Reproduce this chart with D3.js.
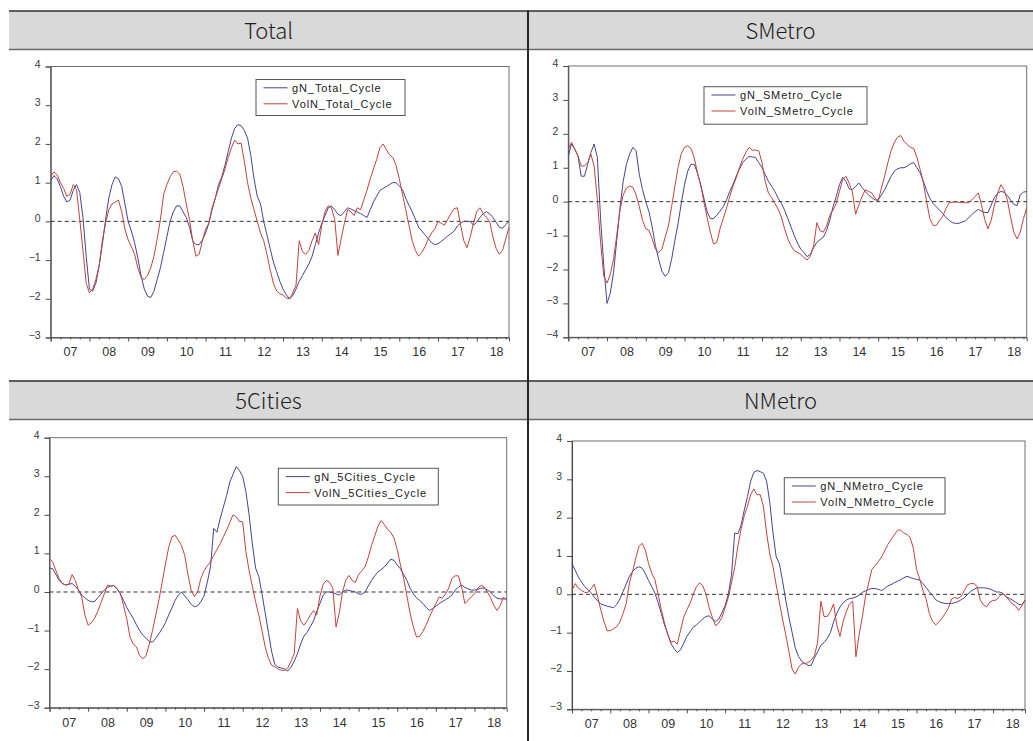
<!DOCTYPE html>
<html>
<head>
<meta charset="utf-8">
<script src="https://cdn.jsdelivr.net/npm/d3@7"></script>
<style>
  html, body { margin: 0; padding: 0; background: #fff; }
  svg { display: block; }
</style>
</head>
<body>
<svg id="chart" width="1033" height="741"></svg>
<script>
// ---- Data: monthly cycle components, 2007M01 .. 2018M11 (143 observations) ----
const yearLabels = ["07", "08", "09", "10", "11", "12", "13", "14", "15", "16", "17", "18"];
const panelTitles = ["Total", "SMetro", "5Cities", "NMetro"];
const yTicksWide = [-4, -3, -2, -1, 0, 1, 2, 3, 4];
const yTicksStd = [-3, -2, -1, 0, 1, 2, 3, 4];

const totalGN = [
  1.05, 1.18, 1.1, 0.9, 0.65, 0.5, 0.55, 0.8, 0.95, 0.75, 0.1, -0.9,
  -1.75, -1.8, -1.6, -1.15, -0.6, 0.05, 0.6, 0.95, 1.15, 1.1, 0.9, 0.45,
  0.0, -0.25, -0.55, -0.95, -1.4, -1.75, -1.93, -1.97, -1.8, -1.5, -1.2, -0.8,
  -0.4, 0.0, 0.25, 0.4, 0.4, 0.25, 0.1, -0.15, -0.5, -0.6, -0.6, -0.48,
  -0.3, -0.05, 0.3, 0.6, 0.95, 1.15, 1.45, 1.8, 2.15, 2.4, 2.5, 2.47,
  2.35, 2.15, 1.7, 1.1, 0.65, 0.45, 0.0, -0.35, -0.7, -1.05, -1.3, -1.55,
  -1.75, -1.9, -2.0, -1.92, -1.75, -1.55, -1.4, -1.25, -1.1, -0.9, -0.6, -0.3,
  -0.05, 0.15, 0.35, 0.4, 0.3, 0.18, 0.15, 0.25, 0.35, 0.32, 0.28, 0.24,
  0.2, 0.15, 0.1, 0.3, 0.5, 0.65, 0.8, 0.85, 0.9, 0.95, 1.0, 1.0,
  0.92, 0.82, 0.6, 0.42, 0.25, 0.05, -0.15, -0.25, -0.35, -0.45, -0.55, -0.6,
  -0.58, -0.52, -0.45, -0.38, -0.32, -0.25, -0.12, -0.05, 0.0, 0.0, 0.0, -0.1,
  -0.02, 0.1, 0.2, 0.25, 0.2, 0.1, -0.02, -0.15, -0.18, -0.08, 0.0
];
const totalVolN = [
  1.15, 1.28, 1.2, 1.0, 0.85, 0.65, 0.7, 0.95, 0.82, 0.05, -0.75, -1.6,
  -1.85, -1.75, -1.5, -1.15, -0.5, -0.05, 0.3, 0.45, 0.5, 0.55, 0.25, -0.2,
  -0.48, -0.65, -0.85, -1.2, -1.45, -1.5, -1.4, -1.2, -0.9, -0.45, 0.05, 0.7,
  0.95, 1.15, 1.28, 1.3, 1.22, 0.9, 0.45, 0.05, -0.5, -0.9, -0.85, -0.5,
  -0.2, -0.05, 0.35, 0.6, 0.85, 1.1, 1.35, 1.65, 1.9, 2.1, 2.0, 2.02,
  1.55, 1.0, 0.6, 0.3, 0.0, -0.3, -0.5, -0.85, -1.25, -1.6, -1.8, -1.87,
  -1.9, -1.98, -2.0, -1.85, -1.65, -0.5, -0.78, -0.85, -0.75, -0.5, -0.3, -0.6,
  -0.1, 0.25, 0.4, 0.35, 0.05, -0.88, -0.45, -0.05, 0.3, 0.25, 0.15, 0.35,
  0.3, 0.55, 0.8, 1.1, 1.35, 1.6, 1.9, 2.0, 1.85, 1.72, 1.65, 1.45,
  1.1, 0.7, 0.3, -0.1, -0.5, -0.75, -0.9, -0.8, -0.65, -0.45, -0.3, -0.2,
  0.0, -0.05, -0.1, 0.05, 0.2, 0.33, 0.35, -0.1, -0.5, -0.68, -0.4, -0.05,
  0.25, 0.35, 0.2, 0.1, 0.0, -0.4, -0.7, -0.85, -0.75, -0.45, -0.15
];

const smetroGN = [
  1.35, 1.7, 1.55, 1.35, 0.75, 0.75, 1.1, 1.45, 1.7, 1.3, -0.5, -1.9,
  -3.0, -2.7, -2.1, -1.15, -0.2, 0.6, 1.1, 1.4, 1.6, 1.5, 0.8, 0.35,
  0.0, -0.3, -0.75, -1.3, -1.7, -2.05, -2.2, -2.1, -1.7, -1.15, -0.65, -0.05,
  0.5, 0.9, 1.1, 1.1, 0.85, 0.5, 0.1, -0.3, -0.5, -0.5, -0.4, -0.28,
  -0.15, 0.05, 0.3, 0.5, 0.75, 0.95, 1.15, 1.25, 1.33, 1.32, 1.3, 1.15,
  1.0, 0.8, 0.6, 0.45, 0.3, 0.1, -0.05, -0.25, -0.5, -0.75, -1.0, -1.22,
  -1.4, -1.5, -1.62, -1.55, -1.35, -1.2, -1.12, -1.05, -0.85, -0.55, -0.15, 0.15,
  0.5, 0.72, 0.6, 0.38, 0.35, 0.45, 0.55, 0.42, 0.3, 0.2, 0.12, 0.05,
  0.05, 0.2, 0.35, 0.55, 0.75, 0.9, 0.97, 1.0, 1.0, 1.05, 1.12, 1.15,
  1.0, 0.85, 0.6, 0.32, 0.1, -0.05, -0.15, -0.25, -0.35, -0.47, -0.55, -0.62,
  -0.64, -0.64, -0.6, -0.57, -0.48, -0.38, -0.3, -0.23, -0.28, -0.32, -0.32, -0.1,
  0.12, 0.25, 0.3, 0.28, 0.18, 0.05, -0.08, -0.12, 0.2, 0.28, 0.3
];
const smetroVolN = [
  1.55, 1.75, 1.55, 1.35, 1.05, 1.05, 1.15, 1.4, 1.05, 0.07, -1.2, -2.2,
  -2.4, -2.15, -1.7, -1.0, -0.25, 0.2, 0.4, 0.46, 0.42, 0.2, -0.15, -0.55,
  -0.8, -0.85, -1.1, -1.4, -1.5, -1.4, -1.05, -0.72, -0.15, 0.45, 1.0, 1.42,
  1.6, 1.65, 1.57, 1.3, 0.85, 0.5, 0.0, -0.47, -0.9, -1.25, -1.2, -0.8,
  -0.5, -0.2, 0.15, 0.45, 0.7, 1.0, 1.25, 1.45, 1.6, 1.52, 1.52, 1.5,
  1.15, 0.6, 0.25, 0.12, -0.05, -0.22, -0.45, -0.8, -1.1, -1.3, -1.45, -1.5,
  -1.55, -1.65, -1.72, -1.6, -1.3, -0.62, -0.86, -0.9, -0.72, -0.4, -0.25, -0.05,
  0.3, 0.65, 0.75, 0.55, 0.28, -0.37, -0.1, 0.15, 0.35, 0.3, 0.26, 0.1,
  0.02, 0.4, 0.75, 1.15, 1.5, 1.75, 1.9, 1.95, 1.78, 1.68, 1.6, 1.57,
  1.3, 0.95, 0.55, 0.0, -0.5, -0.7, -0.7, -0.55, -0.43, -0.2, -0.03, -0.02,
  -0.01, -0.02, -0.03, -0.03, -0.03, 0.05, 0.15, 0.26, -0.1, -0.52, -0.8, -0.55,
  -0.1, 0.25, 0.5, 0.35, 0.05, -0.45, -0.9, -1.1, -0.9, -0.5, -0.18
];

const cities5GN = [
  0.62, 0.6, 0.45, 0.3, 0.22, 0.18, 0.2, 0.22, 0.15, 0.05, -0.08, -0.15,
  -0.22, -0.25, -0.25, -0.15, -0.05, 0.05, 0.12, 0.15, 0.17, 0.08, -0.05, -0.22,
  -0.4, -0.55, -0.68, -0.85, -1.0, -1.12, -1.2, -1.28, -1.3, -1.2, -1.08, -0.95,
  -0.8, -0.6, -0.42, -0.22, -0.08, 0.0, -0.1, -0.2, -0.32, -0.38, -0.36, -0.25,
  -0.1, 0.25, 0.65, 1.65, 1.55, 1.9, 2.2, 2.5, 2.85, 3.05, 3.25, 3.15,
  3.0, 2.6, 2.0, 1.25, 0.62, 0.4, -0.05, -0.55, -1.05, -1.55, -1.88, -1.95,
  -1.97, -2.0, -2.05, -1.95, -1.8, -1.6, -1.35, -1.15, -1.05, -0.9, -0.75, -0.5,
  -0.3, -0.08, 0.0, 0.0, -0.02, -0.05, -0.08, 0.0, 0.05, 0.04, 0.02, 0.0,
  -0.05, -0.06, 0.0, 0.15, 0.3, 0.42, 0.52, 0.58, 0.65, 0.75, 0.85, 0.82,
  0.7, 0.6, 0.45, 0.3, 0.1, -0.05, -0.15, -0.22, -0.3, -0.4, -0.48, -0.43,
  -0.37, -0.3, -0.25, -0.2, -0.15, -0.08, 0.05, 0.12, 0.18, 0.12, 0.08, 0.05,
  0.05, 0.07, 0.1, 0.1, 0.05, 0.0, -0.1, -0.16, -0.18, -0.18, -0.18
];
const cities5VolN = [
  0.86, 0.78, 0.55, 0.35, 0.22, 0.18, 0.2, 0.45, 0.3, 0.05, -0.13, -0.6,
  -0.86, -0.8, -0.68, -0.5, -0.28, -0.05, 0.18, 0.15, 0.17, 0.08, -0.03, -0.35,
  -0.7, -1.17, -1.35, -1.42, -1.65, -1.73, -1.65, -1.35, -1.0, -0.6, -0.2, 0.25,
  0.72, 1.15, 1.43, 1.47, 1.35, 1.2, 0.95, 0.45, 0.05, -0.12, 0.0, 0.35,
  0.55, 0.68, 0.78, 0.95, 1.1, 1.25, 1.43, 1.6, 1.8, 2.0, 1.95, 1.83,
  1.82, 1.05, 0.55, 0.15, -0.25, -0.6, -1.0, -1.43, -1.72, -1.9, -1.94, -2.0,
  -2.03, -2.03, -1.97, -1.8, -1.6, -0.43, -0.75, -0.86, -0.75, -0.6, -0.48, -0.6,
  -0.1, 0.2, 0.3, 0.25, 0.1, -0.91, -0.55, 0.0, 0.3, 0.43, 0.3, 0.25,
  0.45, 0.55, 0.65, 0.9, 1.2, 1.45, 1.7, 1.85, 1.75, 1.62, 1.55, 1.4,
  1.1, 0.7, 0.35, -0.1, -0.55, -0.9, -1.17, -1.15, -1.02, -0.85, -0.65, -0.47,
  -0.3, -0.13, -0.16, -0.05, 0.1, 0.35, 0.42, 0.42, 0.13, -0.3, -0.22, -0.12,
  -0.05, 0.1, 0.17, 0.13, 0.0, -0.15, -0.35, -0.48, -0.35, -0.13, -0.22
];

const nmetroGN = [
  0.8, 0.63, 0.45, 0.32, 0.2, 0.12, 0.04, -0.08, -0.17, -0.25, -0.28, -0.31,
  -0.33, -0.35, -0.27, -0.12, 0.07, 0.27, 0.47, 0.6, 0.68, 0.72, 0.68, 0.54,
  0.36, 0.2, 0.03, -0.22, -0.5, -0.8, -1.03, -1.28, -1.42, -1.52, -1.45, -1.28,
  -1.1, -0.98, -0.86, -0.8, -0.72, -0.64, -0.58, -0.56, -0.65, -0.71, -0.65, -0.48,
  -0.29, 0.0, 0.5, 1.6, 1.58, 1.8, 2.2, 2.55, 2.95, 3.18, 3.23, 3.2,
  3.16, 2.95, 2.4, 1.6, 0.98, 0.8, 0.35, -0.15, -0.6, -1.0, -1.4, -1.62,
  -1.75, -1.8, -1.86, -1.85, -1.66, -1.5, -1.33, -1.26, -1.15, -1.0, -0.72, -0.5,
  -0.33, -0.22, -0.15, -0.11, -0.1, -0.07, -0.02, 0.05, 0.09, 0.13, 0.15, 0.15,
  0.13, 0.1, 0.15, 0.22, 0.25, 0.3, 0.34, 0.38, 0.43, 0.47, 0.44, 0.41,
  0.39, 0.37, 0.28, 0.18, 0.07, -0.03, -0.14, -0.19, -0.22, -0.24, -0.24, -0.24,
  -0.22, -0.19, -0.14, -0.09, 0.0, 0.08, 0.13, 0.17, 0.17, 0.17, 0.16, 0.14,
  0.1, 0.06, 0.06, 0.03, -0.06, -0.1, -0.15, -0.2, -0.26, -0.28, -0.16
];
const nmetroVolN = [
  0.1, 0.28, 0.16, 0.1, 0.05, 0.05, 0.15, 0.26, -0.05, -0.4, -0.7, -0.95,
  -0.95, -0.9, -0.85, -0.72, -0.5, -0.24, 0.3, 0.6, 0.95, 1.25, 1.33, 1.15,
  0.8, 0.55, 0.38, 0.0, -0.4, -0.75, -1.05, -1.25, -1.22, -1.3, -0.95, -0.6,
  -0.4, -0.24, 0.0, 0.2, 0.3, 0.22, 0.0, -0.35, -0.6, -0.82, -0.75, -0.6,
  -0.35, -0.08, 0.3, 0.7, 1.25, 1.7, 2.05, 2.3, 2.6, 2.75, 2.6, 2.6,
  2.3, 1.6, 1.05, 0.72, 0.25, -0.2, -0.65, -1.05, -1.5, -1.95, -2.08, -1.9,
  -1.81, -1.81, -1.78, -1.72, -1.6, -1.25, -0.18, -0.58, -0.58, -0.45, -0.25, -0.8,
  -1.1, -0.7, -0.45, -0.25, -0.18, -1.63, -1.05, -0.6, -0.05, 0.3, 0.65, 0.75,
  0.85, 0.97, 1.13, 1.3, 1.42, 1.55, 1.67, 1.68, 1.6, 1.56, 1.48, 1.2,
  0.65, 0.4, 0.1, -0.12, -0.5, -0.7, -0.8, -0.72, -0.62, -0.5, -0.35, -0.12,
  -0.08, -0.11, -0.05, 0.1, 0.25, 0.28, 0.28, 0.2, -0.15, -0.28, -0.33, -0.2,
  -0.16, -0.15, -0.05, 0.02, -0.05, -0.15, -0.25, -0.3, -0.42, -0.3, -0.15
];

const legendNames = [
  ["gN_Total_Cycle", "VolN_Total_Cycle"],
  ["gN_SMetro_Cycle", "VolN_SMetro_Cycle"],
  ["gN_5Cities_Cycle", "VolN_5Cities_Cycle"],
  ["gN_NMetro_Cycle", "VolN_NMetro_Cycle"]
];

// ---- Styling / layout ----
const COLOR_G = "#42468f";
const COLOR_V = "#c2423d";
const AXIS_COLOR = "#4a4a4a";
const LABEL_FONT = "'Liberation Sans', Arial, sans-serif";
const HEAD_FONT = "'Noto Sans CJK KR Light', 'Noto Sans CJK KR', 'Noto Sans', sans-serif";

const panels = [
  { title: panelTitles[0], series: [totalGN, totalVolN], names: legendNames[0], yTicks: yTicksStd,
    plot: { l: 50.7, r: 509, t: 66.5, b: 337.5 }, legend: { x: 256, y: 79.5, w: 149, h: 36 },
    head: { x0: 9, x1: 528, y0: 11, y1: 49.5 } },
  { title: panelTitles[1], series: [smetroGN, smetroVolN], names: legendNames[1], yTicks: yTicksWide,
    plot: { l: 568.3, r: 1026.7, t: 66, b: 337.3 }, legend: { x: 704, y: 86.7, w: 163, h: 37.5 },
    head: { x0: 528, x1: 1033, y0: 11, y1: 49.5 } },
  { title: panelTitles[2], series: [cities5GN, cities5VolN], names: legendNames[2], yTicks: yTicksStd,
    plot: { l: 49.5, r: 506.7, t: 437.7, b: 707.7 }, legend: { x: 278.3, y: 468.3, w: 160, h: 36.7 },
    head: { x0: 9, x1: 528, y0: 381, y1: 419.5 } },
  { title: panelTitles[3], series: [nmetroGN, nmetroVolN], names: legendNames[3], yTicks: yTicksStd,
    plot: { l: 572, r: 1025, t: 441, b: 709.3 }, legend: { x: 784.3, y: 477.7, w: 160.7, h: 36.3 },
    head: { x0: 528, x1: 1033, y0: 381, y1: 419.5 } }
];

const svg = d3.select("#chart");

// ---- Table frame: header bands and divider ----
const table = svg.append("g").attr("class", "table");
[11, 381].forEach(y0 => {
  table.append("rect").attr("x", 9).attr("y", y0).attr("width", 1033 - 9).attr("height", 38.5)
    .attr("fill", "#d9d9d9");
  table.append("line").attr("x1", 9).attr("x2", 1033).attr("y1", y0).attr("y2", y0)
    .attr("stroke", "#2e2e2e").attr("stroke-width", 1.6);
  table.append("line").attr("x1", 9).attr("x2", 1033).attr("y1", y0 + 38.5).attr("y2", y0 + 38.5)
    .attr("stroke", "#6a6a6a").attr("stroke-width", 1.6);
});
table.append("line").attr("x1", 528).attr("x2", 528).attr("y1", 10.5).attr("y2", 741)
  .attr("stroke", "#262626").attr("stroke-width", 2);

// ---- Panels ----
panels.forEach(p => {
  // header caption
  table.append("text")
    .attr("x", (p.head.x0 + p.head.x1) / 2)
    .attr("y", p.head.y0 + 27.5)
    .attr("text-anchor", "middle")
    .attr("font-family", HEAD_FONT)
    .attr("font-weight", 300)
    .attr("font-size", 22)
    .attr("fill", "#1e1e1e")
    .text(p.title);

  const n = p.series[0].length;
  const x = d3.scaleLinear().domain([0, n - 1]).range([p.plot.l, p.plot.r]);
  const yExt = d3.extent(p.yTicks);
  const y = d3.scaleLinear().domain(yExt).range([p.plot.b, p.plot.t]);

  const g = svg.append("g").attr("class", "panel");

  // plot frame
  g.append("rect")
    .attr("x", p.plot.l).attr("y", p.plot.t)
    .attr("width", p.plot.r - p.plot.l).attr("height", p.plot.b - p.plot.t)
    .attr("fill", "#fff").attr("stroke", "#6e6e6e").attr("stroke-width", 1);

  // y axis
  const yAxis = g.append("g").attr("transform", `translate(${p.plot.l},0)`)
    .call(d3.axisLeft(y).tickValues(p.yTicks).tickSize(5).tickPadding(5).tickFormat(d3.format("d")));
  yAxis.select(".domain").attr("stroke", AXIS_COLOR);
  yAxis.selectAll(".tick line").attr("stroke", AXIS_COLOR);
  yAxis.selectAll("text").attr("font-family", LABEL_FONT).attr("font-size", 10.5)
    .attr("fill", "#3a3a3a").attr("dy", "0.05em");

  // x axis: year ticks, quarter ticks, mid-year labels
  const years = d3.range(0, n, 12);
  const quarters = d3.range(0, n, 3).filter(m => m % 12 !== 0);
  const xMajor = g.append("g").attr("transform", `translate(0,${p.plot.b})`)
    .call(d3.axisBottom(x).tickValues(years).tickSize(4).tickFormat(""));
  xMajor.select(".domain").attr("stroke", AXIS_COLOR);
  xMajor.selectAll(".tick line").attr("stroke", AXIS_COLOR);
  const xMinor = g.append("g").attr("transform", `translate(0,${p.plot.b})`)
    .call(d3.axisBottom(x).tickValues(quarters).tickSize(2).tickFormat(""));
  xMinor.select(".domain").remove();
  xMinor.selectAll(".tick line").attr("stroke", AXIS_COLOR);
  const xLab = g.append("g").attr("transform", `translate(0,${p.plot.b})`)
    .call(d3.axisBottom(x).tickValues(yearLabels.map((d, i) => i * 12 + 6)).tickSize(0).tickPadding(10)
      .tickFormat((d, i) => yearLabels[i]));
  xLab.select(".domain").remove();
  xLab.selectAll("text").attr("font-family", LABEL_FONT).attr("font-size", 12.5).attr("fill", "#333");

  // zero reference line
  g.append("line")
    .attr("x1", p.plot.l).attr("x2", p.plot.r)
    .attr("y1", y(0)).attr("y2", y(0))
    .attr("stroke", "#333").attr("stroke-width", 1).attr("stroke-dasharray", "4,3");

  // series lines
  const line = d3.line().x((d, i) => x(i)).y(d => y(d));
  [COLOR_G, COLOR_V].forEach((c, k) => {
    g.append("path").datum(p.series[k])
      .attr("d", line).attr("fill", "none")
      .attr("stroke", c).attr("stroke-width", 1).attr("stroke-linejoin", "round");
  });

  // legend
  const L = p.legend;
  const lg = g.append("g").attr("transform", `translate(${L.x},${L.y})`);
  lg.append("rect").attr("width", L.w).attr("height", L.h)
    .attr("fill", "#fff").attr("stroke", "#555").attr("stroke-width", 1);
  p.names.forEach((name, k) => {
    const yy = 8.3 + k * 16;
    lg.append("line").attr("x1", 7.5).attr("x2", 31.5).attr("y1", yy).attr("y2", yy)
      .attr("stroke", k === 0 ? COLOR_G : COLOR_V).attr("stroke-width", 1);
    lg.append("text").attr("x", 36).attr("y", yy).attr("dy", "0.36em")
      .attr("font-family", LABEL_FONT).attr("font-size", 11).attr("letter-spacing", 0.9)
      .attr("fill", "#222").text(name);
  });
});
</script>
</body>
</html>
